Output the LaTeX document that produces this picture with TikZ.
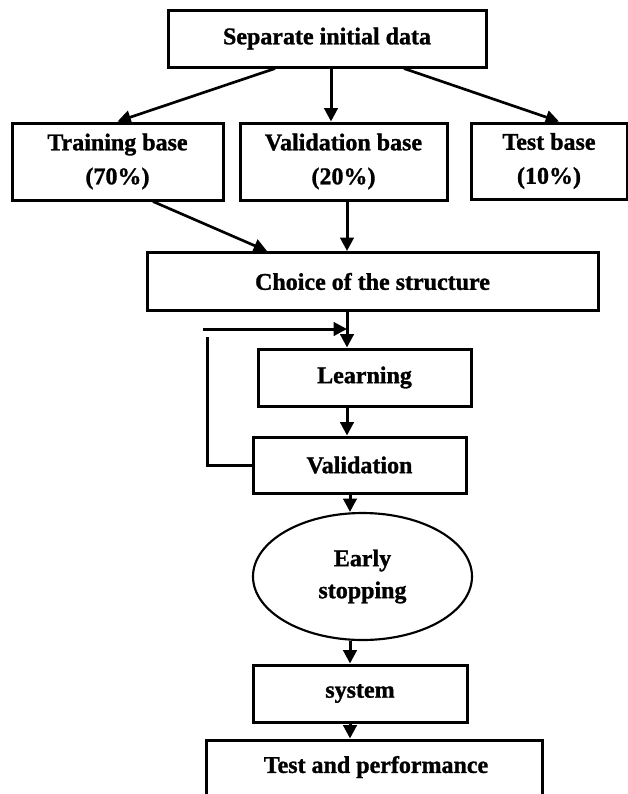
\documentclass[tikz,border=0pt]{standalone}
\usepackage{fontspec}
\setmainfont{Liberation Serif}[BoldFeatures={FakeBold=1.2}]
\usetikzlibrary{arrows.meta,shapes.geometric}
\newcommand\flowfont{\fontsize{18}{25.5}\selectfont\bfseries}
\begin{document}
\begin{tikzpicture}[x=0.75pt,y=-0.75pt,line width=2.25pt,
  box/.style={draw,rectangle,inner sep=0pt,align=center,font=\flowfont},
  arr/.style={-{Triangle[length=10pt,width=10pt]}},
  link/.style={line width=2pt}]
\useasboundingbox (0,0) rectangle (628,794);

% boxes
\node[box,minimum width=238.5pt,minimum height=42.75pt] (top) at (327,38.5) {Separate initial data};
\node[box,minimum width=158.25pt,minimum height=57.75pt] (tr) at (117.5,161.5) {Training base\\(70\%)};
\node[box,minimum width=155.25pt,minimum height=57.75pt] (vb) at (343.5,161.5) {Validation base\\(20\%)};
\node[box,minimum width=117pt,minimum height=57pt] (tb) at (549,161) {Test base\\(10\%)};
\node[box,minimum width=338.25pt,minimum height=43.5pt] (choice) at (372.5,281.5) {Choice of the structure};
\node[box,minimum width=159.75pt,minimum height=42.75pt] (learn) at (364.5,377.5) {Learning};
\node[box,minimum width=159.75pt,minimum height=42pt] (val) at (359.5,465) {Validation};
\node[draw,ellipse,line width=1.6pt,inner sep=0pt,align=center,
      font=\fontsize{18}{24}\selectfont\bfseries,
      minimum width=164.25pt,minimum height=95.25pt] (stop) at (362.5,576.5) {Early\\stopping};
\node[box,minimum width=160.5pt,minimum height=42.75pt] (sys) at (360,693.5) {system};
\node[draw,rectangle,inner sep=0pt,minimum width=252pt,minimum height=43.5pt] (perf) at (374,769) {};
\node[font=\flowfont] (perftext) at (376,767) {Test and performance};

% helper columns
\coordinate (c1) at (275,0);
\coordinate (c2) at (331,0);
\coordinate (c3) at (404,0);
\coordinate (c4) at (559,0);
\coordinate (c5) at (153,0);
\coordinate (c6) at (267,0);
\coordinate (xm) at (347,0);
\coordinate (xn) at (350,0);

% split of the initial data
\draw[arr,link] (top.south -| c1) -- (tr.north);
\draw[arr] (top.south -| c2) -- (vb.north -| c2);
\draw[arr,link] (top.south -| c3) -- (tb.north -| c4);

% into the structure choice
\draw[arr,link] (tr.south -| c5) -- (choice.north -| c6);
\draw[arr] (vb.south -| xm) -- (choice.north -| xm);

% main chain
\draw[arr] (choice.south -| xm) -- (learn.north -| xm);
\draw[arr] (learn.south -| xm) -- (val.north -| xm);
\draw[arr] (val.south -| xn) -- (stop.north -| xn);
\draw[arr] (stop.south -| xn) -- (sys.north -| xn);
\draw[arr] (sys.south -| xn) -- (perf.north -| xn);

% feedback loop from validation back to learning
\coordinate (lpA) at (207,337);
\coordinate (lpB) at (203,329);
\coordinate (lpC) at (347,329);
\draw (val.west) -| (lpA);
\draw[arr] (lpB) -- (lpC);
\end{tikzpicture}
\end{document}
